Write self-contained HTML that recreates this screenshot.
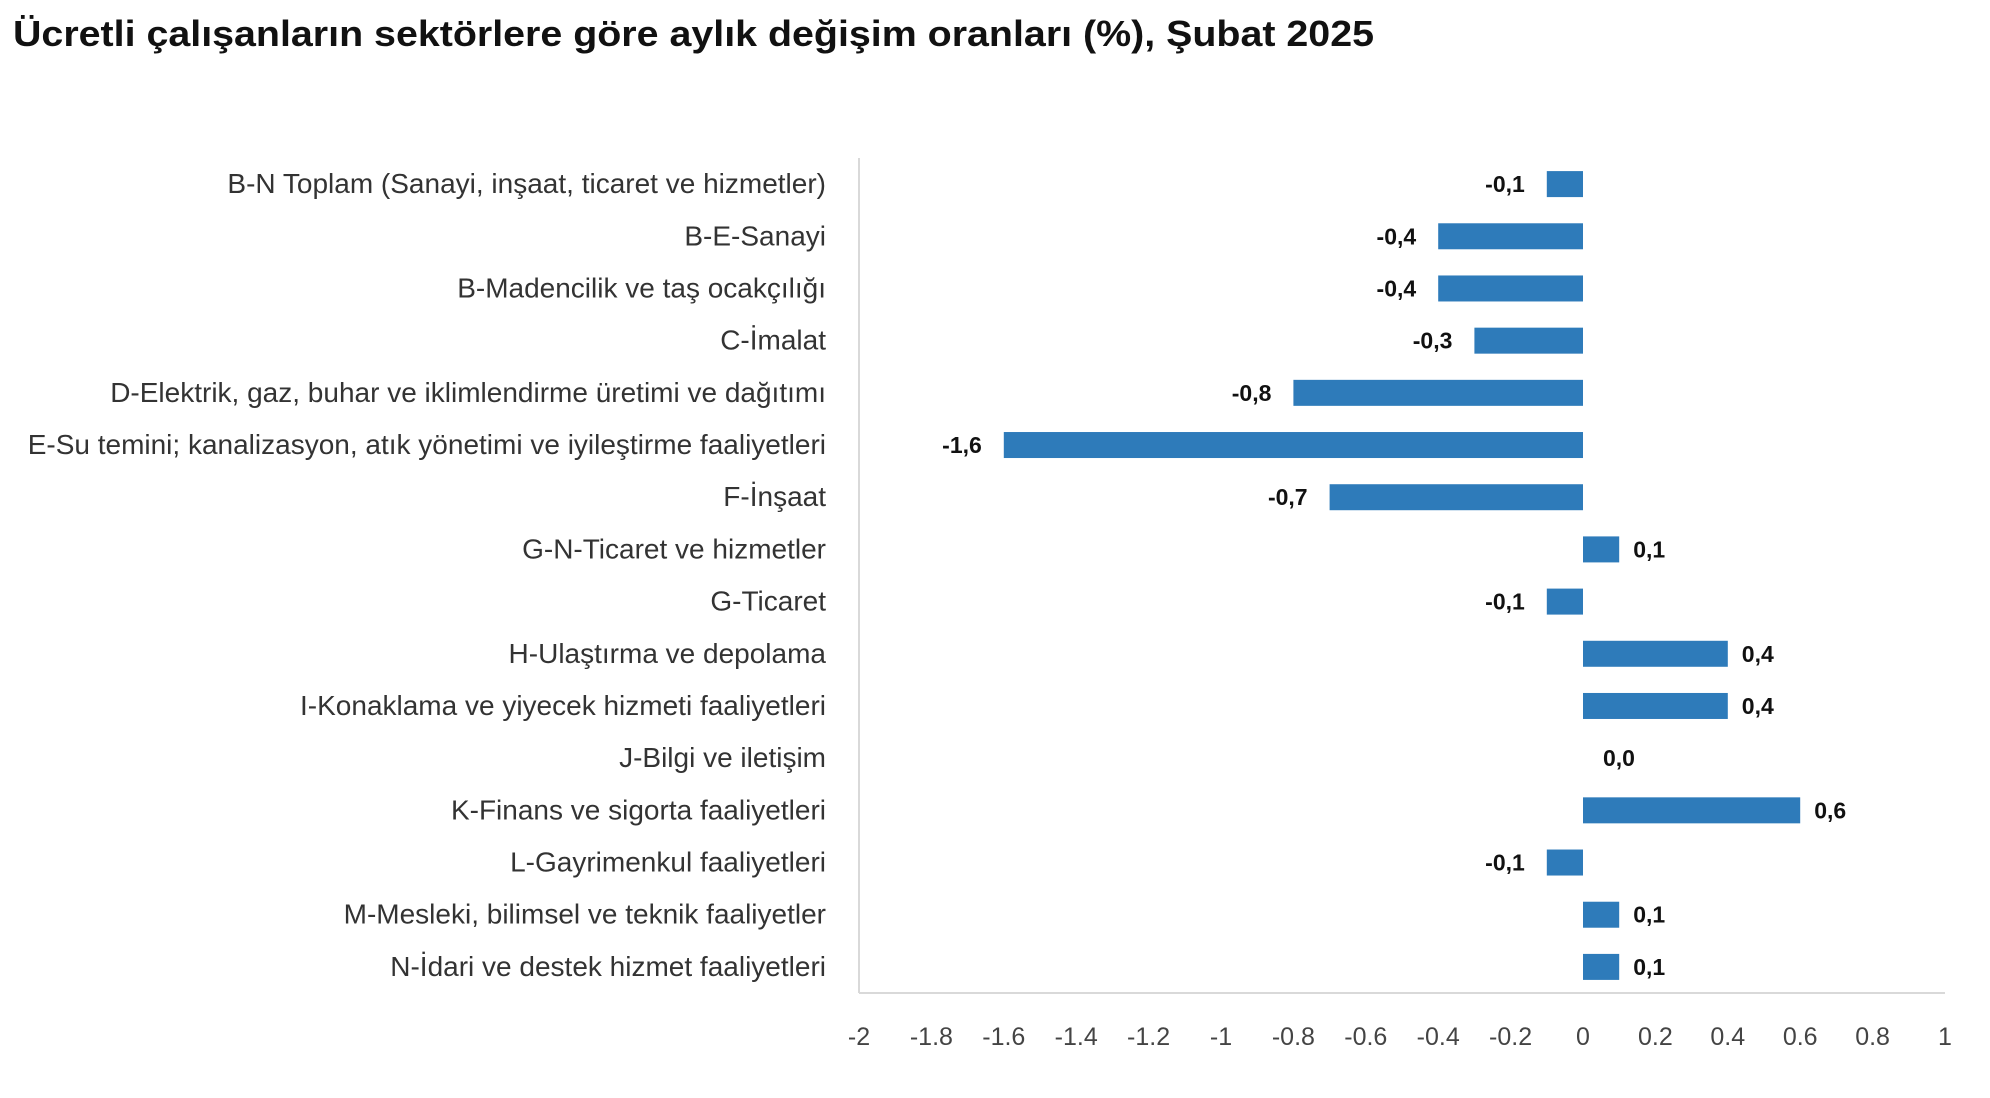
<!DOCTYPE html>
<html><head><meta charset="utf-8">
<style>
html,body{margin:0;padding:0;background:#fff;}
svg{display:block;font-family:"Liberation Sans",sans-serif;}
</style></head>
<body>
<svg id="chart" width="1990" height="1098" viewBox="0 0 1990 1098" xmlns="http://www.w3.org/2000/svg">
<text x="13" y="46" font-size="36" font-weight="bold" fill="#111" textLength="1361" lengthAdjust="spacingAndGlyphs">Ücretli çalışanların sektörlere göre aylık değişim oranları (%), Şubat 2025</text>
<g id="grid"></g>
<g id="bars"></g>
</svg>
<script>
const categories = ["B-N Toplam (Sanayi, inşaat, ticaret ve hizmetler)","B-E-Sanayi","B-Madencilik ve taş ocakçılığı","C-İmalat","D-Elektrik, gaz, buhar ve iklimlendirme üretimi ve dağıtımı","E-Su temini; kanalizasyon, atık yönetimi ve iyileştirme faaliyetleri","F-İnşaat","G-N-Ticaret ve hizmetler","G-Ticaret","H-Ulaştırma ve depolama","I-Konaklama ve yiyecek hizmeti faaliyetleri","J-Bilgi ve iletişim","K-Finans ve sigorta faaliyetleri","L-Gayrimenkul faaliyetleri","M-Mesleki, bilimsel ve teknik faaliyetler","N-İdari ve destek hizmet faaliyetleri"];
const values = [-0.1,-0.4,-0.4,-0.3,-0.8,-1.6,-0.7,0.1,-0.1,0.4,0.4,0.0,0.6,-0.1,0.1,0.1];
const ticks = [-2,-1.8,-1.6,-1.4,-1.2,-1,-0.8,-0.6,-0.4,-0.2,0,0.2,0.4,0.6,0.8,1];
const tickLabels = ["-2","-1.8","-1.6","-1.4","-1.2","-1","-0.8","-0.6","-0.4","-0.2","0","0.2","0.4","0.6","0.8","1"];

const NS="http://www.w3.org/2000/svg";
const X0=859, X1=1945, xmin=-2, xmax=1;
const x = v => X0 + (v-xmin)/(xmax-xmin)*(X1-X0);
const yTop=158, yBot=993;
const band=(yBot-yTop)/categories.length;
const y = i => yTop + band*(i+0.5);
const grid=document.getElementById('grid'), bars=document.getElementById('bars');
function mk(tag,attrs,parent){const e=document.createElementNS(NS,tag);for(const k in attrs)e.setAttribute(k,attrs[k]);parent.appendChild(e);return e;}

const va=mk('line',{x1:X0,x2:X0,y1:yTop,y2:yBot,stroke:'#d9d9d9','stroke-width':2},grid);


const ha=mk('line',{x1:X0,x2:X1,y1:yBot,y2:yBot,stroke:'#d9d9d9','stroke-width':2},grid);



ticks.forEach((t,i)=>{
  const tl=mk('text',{x:x(t),y:1045,'text-anchor':'middle','font-size':25,fill:'#444'},grid);
  tl.textContent=tickLabels[i];
  
  
});

categories.forEach((c,i)=>{
  const cl=mk('text',{x:826,y:y(i)+9,'text-anchor':'end','font-size':28,fill:'#333'},grid);
  cl.textContent=c;
  
  
  const v=values[i];
  const bx=Math.min(x(0),x(v)), bw=Math.abs(x(v)-x(0));
  if(bw>0){
    const r=mk('rect',{x:bx,y:y(i)-13,width:bw,height:26,fill:'#2E7BBA'},bars);
    
    
  }
  const txt=v.toFixed(1).replace('.',',');
  let lx,anchor;
  if(v<0){lx=x(v)-22;anchor='end';}else if(v>0){lx=x(v)+14;anchor='start';}else{lx=x(0)+20;anchor='start';}
  const vl=mk('text',{x:lx,y:y(i)+8,'text-anchor':anchor,'font-size':23,'font-weight':'bold',fill:'#111'},bars);
  vl.textContent=txt;
  
  
});
</script>
</body></html>
